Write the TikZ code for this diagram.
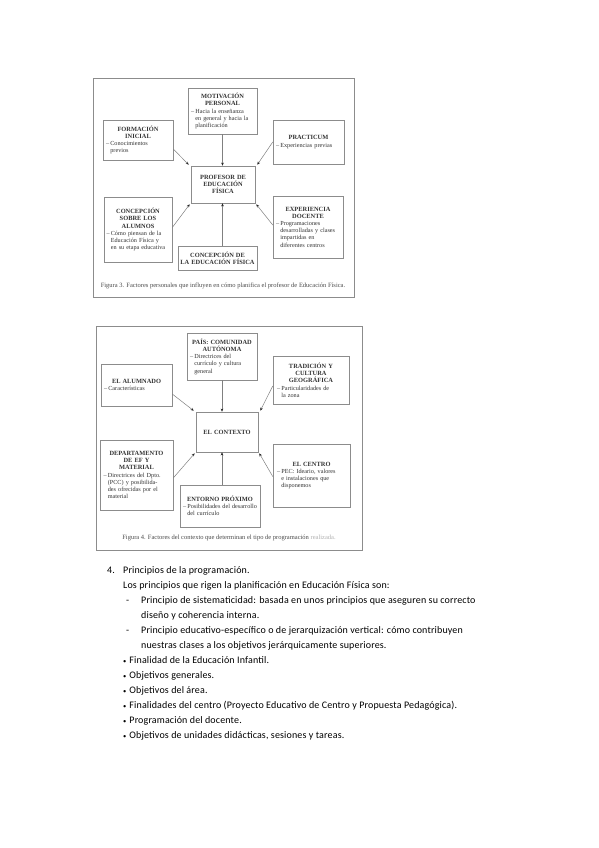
\documentclass[tikz,border=0pt]{standalone}
\usepackage{fontspec}
\setmainfont{Carlito}[LetterSpace=1.5]
\newfontfamily\figfont{Liberation Serif}
\usetikzlibrary{arrows.meta}
\newcommand\bt[1]{{\centering\bfseries\fontsize{6.4}{7.3}\selectfont\parindent=0pt #1\par}}
\newcommand\bb[1]{{\parindent=0pt\leftskip=0.7em\rightskip=-9pt plus 1fil\noindent\hspace*{-0.7em}–\hspace{0.2em}#1\par}}
\newcommand\smb{{\fontsize{6.5}{6.5}\selectfont•}\hspace{0.3em}}
\tikzset{
  fbox/.style={draw=black!45, line width=0.5pt, fill=white, inner sep=0pt,
    font=\figfont\fontsize{6.2}{7.2}\selectfont, text=black!80},
  frm/.style={draw=black!45, line width=0.9pt},
  arr/.style={draw=black!50, line width=0.5pt, -{Stealth[length=3.2pt,width=2.6pt,black!85]}},
  captxt/.style={font=\figfont\fontsize{6.5}{7.5}\selectfont, text=black!70, inner sep=0pt},
  txt/.style={font=\fontsize{10}{12}\selectfont, anchor=base west, inner sep=0pt}
}
\begin{document}
\begin{tikzpicture}[x=1pt,y=-1pt]
\useasboundingbox[fill=white] (0,0) rectangle (599,848);
% ---------- Figure 3 ----------
\draw[frm] (93,78) rectangle (354,297);
\node[fbox, minimum width=69, minimum height=46, text width=63] (mot) at (222.5,111)
  {\bt{MOTIVACIÓN\\PERSONAL}\bb{Hacia la enseñanza\\en general y hacia la\\planificación}};
\node[fbox, minimum width=70, minimum height=40, text width=64] (form) at (138,140)
  {\bt{FORMACIÓN\\INICIAL}\bb{Conocimientos\\previos}};
\node[fbox, minimum width=71, minimum height=44, text width=65] (prac) at (308.5,142)
  {\bt{PRACTICUM}\bb{Experiencias previas}};
\node[fbox, minimum width=64, minimum height=37, text width=60] (prof) at (223,184.5)
  {\bt{PROFESOR DE\\EDUCACIÓN\\FÍSICA}};
\node[fbox, minimum width=68, minimum height=65, text width=63] (calum) at (138,229.5)
  {\bt{CONCEPCIÓN\\SOBRE LOS\\ALUMNOS}\bb{Cómo piensan de la\\Educación Física y\\en su etapa educativa}};
\node[fbox, minimum width=70, minimum height=62, text width=64] (exp) at (308,227)
  {\bt{EXPERIENCIA\\DOCENTE}\bb{Programaciones\\desarrolladas y clases\\impartidas en\\diferentes centros}};
\node[fbox, minimum width=79, minimum height=24, text width=77] (ced) at (217.5,258)
  {\bt{CONCEPCIÓN DE\\LA EDUCACIÓN FÍSICA}};
\draw[arr] (mot.south) -- (mot.south |- prof.north);
\draw[arr] ([yshift=-9pt]form.east) -- ([xshift=-2pt,yshift=1pt]prof.north west);
\draw[arr] ([yshift=0pt]prac.west) -- ([xshift=2pt,yshift=1pt]prof.north east);
\draw[arr] ([yshift=2pt]calum.east) -- ([xshift=-1pt,yshift=-1pt]prof.south west);
\draw[arr] ([yshift=2pt]exp.west) -- ([xshift=1pt,yshift=-1pt]prof.south east);
\draw[arr] (ced.north -| mot.south) -- (mot.south |- prof.south);
\node[captxt] (cap3) at (223,286) {Figura 3. Factores personales que influyen en cómo planifica el profesor de Educación Física.};
% ---------- Figure 4 ----------
\draw[frm] (96,326) rectangle (362,550);
\node[fbox, minimum width=70, minimum height=47, text width=64] (pais) at (222,356.5)
  {\bt{PAÍS: COMUNIDAD\\AUTÓNOMA}\bb{Directrices del\\currículo y cultura\\general}};
\node[fbox, minimum width=71, minimum height=42, text width=65] (alum) at (136.5,385)
  {\bt{EL ALUMNADO}\bb{Características}};
\node[fbox, minimum width=76, minimum height=48, text width=68] (trad) at (311,380)
  {\bt{TRADICIÓN Y\\CULTURA\\GEOGRÁFICA}\bb{Particularidades de\\la zona}};
\node[fbox, minimum width=62, minimum height=40, text width=58] (ctx) at (227,432)
  {\bt{EL CONTEXTO}};
\node[fbox, minimum width=73, minimum height=70, text width=66] (dep) at (136.5,475)
  {\bt{DEPARTAMENTO\\DE EF Y\\MATERIAL}\bb{Directrices del Dpto.\\(PCC) y posibilida-\\des ofrecidas por el\\material}};
\node[fbox, minimum width=77, minimum height=63, text width=69] (cen) at (311.5,475.5)
  {\bt{EL CENTRO}\bb{PEC: Ideario, valores\\e instalaciones que\\disponemos}};
\node[fbox, minimum width=80, minimum height=42, text width=74] (ent) at (220,506)
  {\bt{ENTORNO PRÓXIMO}\bb{Posibilidades del desarrollo\\del currículo}};
\draw[arr] (pais.south) -- (pais.south |- ctx.north);
\draw[arr] ([yshift=-9pt]alum.east) -- ([xshift=-2pt,yshift=1pt]ctx.north west);
\draw[arr] ([yshift=-6pt]trad.west) -- ([xshift=2pt,yshift=1pt]ctx.north east);
\draw[arr] ([yshift=-3pt]dep.east) -- ([xshift=-1pt,yshift=-1pt]ctx.south west);
\draw[arr] ([yshift=-1pt]cen.west) -- ([xshift=1pt,yshift=-1pt]ctx.south east);
\draw[arr] (ent.north -| pais.south) -- (pais.south |- ctx.south);
\node[captxt] (cap4) at (229,538) {Figura 4. Factores del contexto que determinan el tipo de programación \textcolor{black!30}{realizada.}};
% ---------- Text ----------
\node[txt] (n4) at (107,573) {4.};
\node[txt] (l1) at (123,573) {Principios de la programación.};
\node[txt] (l2) at (123,588) {Los principios que rigen la planificación en Educación Física son:};
\node[txt] (d1) at (126,603) {-};
\node[txt] (l3) at (141,603) {Principio de sistematicidad: basada en unos principios que aseguren su correcto};
\node[txt] (l4) at (141,618) {diseño y coherencia interna.};
\node[txt] (d2) at (126,633) {-};
\node[txt] (l5) at (141,633) {Principio educativo-específico o de jerarquización vertical: cómo contribuyen};
\node[txt] (l6) at (141,648) {nuestras clases a los objetivos jerárquicamente superiores.};
\node[txt] (b1) at (123,663) {\smb Finalidad de la Educación Infantil.};
\node[txt] (b2) at (123,678) {\smb Objetivos generales.};
\node[txt] (b3) at (123,693) {\smb Objetivos del área.};
\node[txt] (b4) at (123,708) {\smb Finalidades del centro (Proyecto Educativo de Centro y Propuesta Pedagógica).};
\node[txt] (b5) at (123,723) {\smb Programación del docente.};
\node[txt] (b6) at (123,738) {\smb Objetivos de unidades didácticas, sesiones y tareas.};
\end{tikzpicture}
\end{document}
